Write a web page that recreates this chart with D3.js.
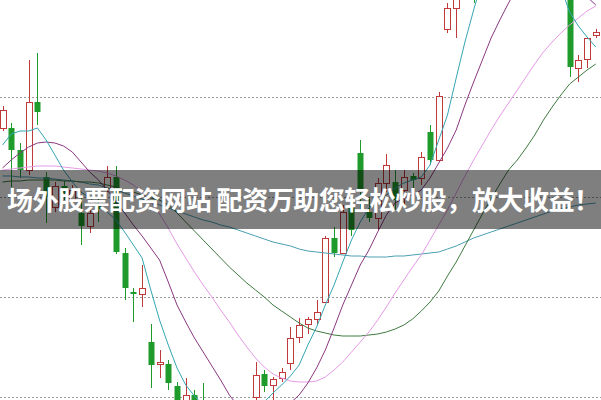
<!DOCTYPE html>
<html><head><meta charset="utf-8">
<script src="https://cdn.jsdelivr.net/npm/d3@7"></script>
<style>html,body{margin:0;padding:0;background:#fff;overflow:hidden}</style>
</head><body>
<svg id="c" width="601" height="400"></svg>
<script>
const openP = [36.9,36.9,34.7,32.7,39.5,32.0,29.0,31.1,29.7,28.4,27.1,29.2,30.9,32.0,24.4,20.5,20.3,15.5,13.3,13.3,11.1,8.9,10.2,9.5,8.7,7.2,7.7,5.9,7.2,10.0,12.3,11.2,11.9,13.4,16.0,17.3,17.8,19.5,25.9,24.4,28.9,34.4,28.5,27.9,31.4,31.5,30.7,32.1,31.9,36.5,33.7,46.8,48.9,53.5,52.7,50.7,52.5,56.2,53.7,58.2,55.7,53.2,56.7,53.7,51.7,51.7,42.9,43.8,46.2];
const highP = [39.1,37.4,35.4,43.7,44.4,32.5,31.5,31.6,31.2,29.9,29.4,29.9,33.1,33.1,24.9,20.9,23.2,17.3,14.7,13.7,11.5,11.9,10.7,11.4,9.2,8.9,8.5,8.2,9.4,13.5,12.7,12.0,12.9,17.0,17.9,18.0,19.7,26.1,27.0,29.2,29.5,35.7,30.0,31.9,34.3,32.7,32.7,32.4,34.5,37.2,40.5,49.4,51.7,54.2,53.7,53.7,56.7,57.2,58.7,59.2,56.7,57.7,57.2,56.2,54.7,52.7,44.2,46.0,46.8];
const lowP = [36.6,31.0,31.9,32.2,37.2,27.4,28.5,29.7,29.2,25.2,26.4,27.5,30.5,24.3,19.7,17.5,19.0,10.9,11.9,10.7,7.7,8.5,8.2,7.2,6.2,6.5,5.2,5.2,6.7,9.7,10.5,9.5,11.5,12.7,15.4,16.3,17.2,19.4,24.0,24.3,26.1,28.7,27.5,26.7,30.5,28.7,29.2,30.7,31.2,33.2,33.5,46.4,45.9,50.5,49.4,50.2,51.7,53.2,53.2,54.7,52.2,52.7,52.7,52.7,50.9,42.0,41.5,42.9,45.9];
const closeP = [38.7,34.7,32.7,39.5,38.5,30.0,31.1,30.4,30.7,27.1,28.4,28.8,32.0,24.5,20.9,20.3,20.9,13.2,13.5,11.4,8.7,10.2,8.7,7.9,6.7,8.2,5.7,7.2,9.2,12.2,11.1,11.8,12.5,15.9,17.2,17.8,18.5,25.9,24.4,28.5,26.7,30.5,27.9,31.4,33.2,29.7,32.0,31.7,34.0,33.7,40.1,48.9,51.2,51.2,50.2,52.7,55.7,53.7,58.2,55.7,53.2,56.7,53.7,55.7,53.7,43.0,43.7,45.9,46.5];

const ma5 = [35.2,36.3,36.6,36.6,36.9,35.7,34.2,32.7,31.5,30.5,29.9,29.2,28.5,27.7,26.5,25.2,23.9,20.7,17.7,15.2,12.9,11.2,10.1,9.2,8.2,7.5,6.9,6.9,7.5,8.5,9.5,10.4,11.2,12.1,13.2,15.2,17.0,19.2,21.2,23.5,25.7,27.5,28.9,29.7,30.2,30.9,31.4,31.7,32.0,33.2,35.7,38.2,41.9,45.5,48.7,51.7,54.7,56.7,57.7,58.2,57.7,56.7,55.2,53.2,50.9,48.5,47.1,46.0,45.0];
const ma10 = [32.9,33.7,34.4,35.0,35.4,35.5,35.4,35.1,34.5,33.5,32.5,31.7,30.7,29.6,28.4,27.2,26.1,24.9,23.7,21.5,19.2,17.5,15.9,14.5,13.1,11.7,10.2,9.1,8.3,7.9,7.9,8.3,8.8,9.4,10.2,11.4,12.9,14.7,16.9,19.2,21.2,23.2,24.7,26.5,28.2,29.4,29.9,30.2,30.7,31.9,33.4,34.9,36.7,39.2,41.5,43.7,45.9,47.7,49.4,50.9,52.2,53.0,53.2,52.9,52.2,51.5,50.7,50.0,49.2];
const ma20 = [32.7,32.8,32.9,33.0,33.1,33.1,33.1,33.0,32.9,32.8,32.7,32.6,32.4,32.1,31.7,31.2,30.5,29.5,28.3,26.9,25.3,23.9,22.5,21.2,20.0,18.7,17.5,16.2,15.0,13.9,13.0,12.3,11.9,11.6,11.5,11.5,11.6,12.0,12.7,13.5,14.5,15.5,16.5,17.7,19.0,20.4,21.7,23.0,24.2,25.7,27.2,28.7,30.4,32.1,33.7,35.2,36.7,38.1,39.4,40.7,42.0,43.3,44.5,45.5,46.4,47.2,47.9,48.6,49.1];
const ma30 = [31.5,31.6,31.6,31.7,31.7,31.7,31.7,31.6,31.6,31.5,31.5,31.4,31.2,31.0,30.7,30.5,30.2,29.9,29.7,29.2,28.4,27.5,26.6,25.7,24.8,23.9,23.0,22.2,21.4,20.7,20.0,19.2,18.6,18.0,17.4,16.9,16.6,16.4,16.2,16.1,16.1,16.1,16.2,16.3,16.5,16.8,17.2,17.8,18.6,19.5,20.6,22.1,23.5,25.1,26.7,28.3,29.8,31.3,32.7,33.7,34.9,36.2,37.7,39.0,40.2,41.3,42.0,42.7,43.3];
const ma60 = [32.1,32.1,32.0,32.0,31.9,31.9,31.8,31.7,31.6,31.5,31.3,31.2,30.9,30.7,30.4,30.1,29.8,29.5,29.2,28.9,28.6,28.3,28.0,27.7,27.5,27.2,27.0,26.7,26.4,26.1,25.8,25.5,25.3,25.1,24.8,24.6,24.5,24.4,24.3,24.2,24.1,24.1,24.0,24.0,24.0,24.1,24.1,24.2,24.3,24.4,24.5,24.8,25.1,25.5,25.9,26.2,26.5,26.8,27.1,27.4,27.7,28.0,28.3,28.6,28.8,29.0,29.2,29.3,29.4];

const gridTicks = [10, 20, 30, 40];
const bannerText = "场外股票配资网站 配资万助您轻松炒股，放大收益！";

const W = 601, H = 400;
const svg = d3.select("#c");
const idx = d3.range(openP.length);
const x = d3.scaleLinear().domain([0, idx.length - 1]).range([2.5, 595.8]);
const y = d3.scaleLinear().domain([9.7, 49.7]).range([H, 0]);

// grid
const grid = svg.append("g").call(d3.axisRight(y).tickValues(gridTicks).tickSize(W).tickFormat(""));
grid.select(".domain").remove();
grid.selectAll("line").attr("stroke", "#9a9a9a").attr("stroke-dasharray", "2,2");

const RED = "#c0393b", GREEN = "#1f9b2b";
const cg = svg.append("g");
idx.forEach(i => {
  const o = openP[i], c = closeP[i], hi = highP[i], lo = lowP[i];
  const up = c >= o;
  const cx = Math.round(x(i));
  const col = up ? RED : GREEN;
  cg.append("line").attr("x1", cx + 0.5).attr("x2", cx + 0.5)
    .attr("y1", y(hi)).attr("y2", y(lo)).attr("stroke", col).attr("stroke-width", 1);
  const top = Math.round(y(Math.max(o, c))), bot = Math.round(y(Math.min(o, c)));
  if (up) {
    cg.append("rect").attr("x", cx - 2.5).attr("y", top + 0.5).attr("width", 6)
      .attr("height", Math.max(1, bot - top)).attr("fill", "#fff").attr("stroke", col);
  } else {
    cg.append("rect").attr("x", cx - 2.5).attr("y", top).attr("width", 6)
      .attr("height", Math.max(1, bot - top)).attr("fill", col);
  }
});

const line = d3.line().x((d, i) => x(i)).y(d => y(d));
const series = [
  [ma60, "#4a9fb2"],
  [ma30, "#3f7a3f"],
  [ma20, "#e59ae6"],
  [ma10, "#8a3880"],
  [ma5, "#35a5b4"]
];
series.forEach(([d, col]) => {
  svg.append("path").datum(d).attr("d", line).attr("fill", "none")
    .attr("stroke", col).attr("stroke-width", 1);
});

// banner
svg.append("rect").attr("x", 0).attr("y", 170).attr("width", W).attr("height", 59)
  .attr("fill", "rgba(0,0,0,0.5)");
svg.append("text").attr("x", 7).attr("y", 210)
  .attr("font-family", "'Noto Sans CJK SC', 'Noto Sans', sans-serif")
  .attr("font-size", 26).attr("font-weight", "bold").attr("fill", "#fff")
  .attr("textLength", 593).attr("lengthAdjust", "spacing")
  .text(bannerText);
</script>
</body></html>
